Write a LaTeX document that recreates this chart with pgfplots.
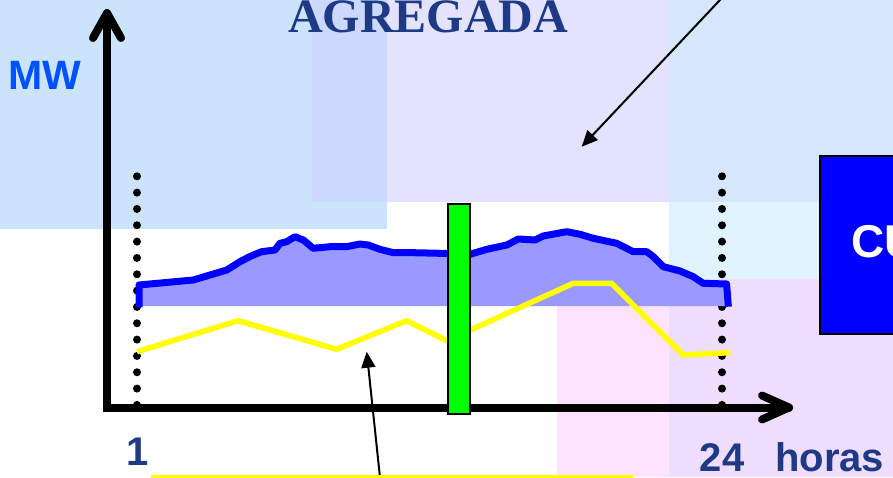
\documentclass[border=0pt]{standalone}
\usepackage{pgfplots}
\pgfplotsset{compat=1.18}
\usepackage{fontspec}
\setmainfont{Liberation Sans}
\newfontfamily\timesfont{Liberation Serif}
\usetikzlibrary{arrows.meta}
\definecolor{navy}{RGB}{31,58,132}
\definecolor{mwblue}{RGB}{0,82,255}
\definecolor{pureblue}{RGB}{0,0,255}
\definecolor{fillblue}{RGB}{153,153,255}
\definecolor{ylw}{RGB}{255,255,0}
\definecolor{grn}{RGB}{0,255,0}
\definecolor{bgA}{RGB}{204,228,251}
\definecolor{bgB}{RGB}{227,227,253}
\definecolor{bgAB}{RGB}{204,216,253}
\definecolor{bgC}{RGB}{214,231,253}
\definecolor{bgD}{RGB}{224,243,254}
\definecolor{bgE}{RGB}{253,227,253}
\definecolor{bgF}{RGB}{238,221,253}
\begin{document}
\begin{tikzpicture}
\begin{scope}[x=1pt,y=1pt]
\useasboundingbox (0,0) rectangle (893,477);
\clip (0,0) rectangle (893,477);
\fill[white] (0,0) rectangle (893,477);
% background panels of the slide
\fill[bgA] (0,248) rectangle (387,477);
\fill[bgB] (312,275) rectangle (669,477);
\fill[bgAB] (312,275) rectangle (387,477);
\fill[bgC] (669,275) rectangle (893,477);
\fill[bgD] (669,198) rectangle (893,275);
\fill[bgE] (557,0) rectangle (669,171);
\fill[bgF] (669,0) rectangle (893,198);
% dotted verticals at hours 1 and 24
\draw[line width=8pt, line cap=round, dash pattern=on 0pt off 16.33pt] (137,300.7) -- (137,71.5);
\draw[line width=8pt, line cap=round, dash pattern=on 0pt off 16.33pt] (722,300.7) -- (722,71.5);
% axes with arrows
\draw[line width=8pt, line join=miter, line cap=round] (107,464) -- (107,69.5) -- (789,69.5);
\draw[line width=8pt, line cap=round, line join=round] (93,439) -- (107,464) -- (121,439);
\draw[line width=8pt, line cap=round, line join=round] (762,81.5) -- (789,69.5) -- (762,57.5);
\end{scope}
\begin{axis}[at={(0,0)}, anchor=south west, scale only axis,
  width=893pt, height=477pt,
  xmin=-4.386, xmax=30.723, ymin=-700, ymax=4070,
  hide axis, clip=true]
% aggregated load curve (area)
\addplot[fill=fillblue, draw=none] coordinates {
 (1.08,1010) (1.08,1220) (3.21,1270) (4.53,1370) (5.05,1453) (5.38,1497)
 (5.64,1527) (5.90,1553) (6.43,1570) (6.62,1637) (6.89,1653) (7.21,1703)
 (7.54,1670) (7.93,1587) (8.59,1603) (9.24,1603) (9.77,1630) (10.09,1620)
 (10.55,1577) (11.08,1543) (11.86,1543) (12.91,1537) (14.09,1527) (14.75,1577)
 (15.54,1620) (15.99,1680) (16.65,1670) (16.97,1710) (17.89,1753) (18.42,1727)
 (18.94,1687) (19.86,1637) (20.51,1553) (21.04,1553) (21.30,1503) (21.69,1403)
 (22.35,1360) (22.87,1303) (23.26,1237) (24.18,1230) (24.25,1010)};
\addplot[pureblue, line width=7pt, line join=round, mark=none] coordinates {
 (1.08,997) (1.08,1220) (3.21,1270) (4.53,1370) (5.05,1453) (5.38,1497)
 (5.64,1527) (5.90,1553) (6.43,1570) (6.62,1637) (6.89,1653) (7.21,1703)
 (7.54,1670) (7.93,1587) (8.59,1603) (9.24,1603) (9.77,1630) (10.09,1620)
 (10.55,1577) (11.08,1543) (11.86,1543) (12.91,1537) (14.09,1527) (14.75,1577)
 (15.54,1620) (15.99,1680) (16.65,1670) (16.97,1710) (17.89,1753) (18.42,1727)
 (18.94,1687) (19.86,1637) (20.51,1553) (21.04,1553) (21.30,1503) (21.69,1403)
 (22.35,1360) (22.87,1303) (23.26,1237) (24.18,1230) (24.25,1003)};
% yellow series
\addplot[ylw, line width=5.5pt, line join=miter, mark=none] coordinates {
 (1.00,553) (4.98,863) (8.85,577) (11.60,863) (13.18,663)
 (18.15,1237) (19.66,1237) (22.48,520) (24.31,543)};
% green bar
\addplot[fill=grn, draw=black, line width=1.5pt, mark=none] coordinates {
 (13.23,-70) (14.09,-70) (14.09,2030) (13.23,2030)} -- cycle;
\end{axis}
\begin{scope}[x=1pt,y=1pt]
\clip (0,0) rectangle (893,477);
% annotation arrows
\draw[line width=2pt, -{Triangle[length=16pt,width=14pt]}] (729.4,487) -- (581.7,330.3);
\draw[line width=2pt, -{Triangle[length=16pt,width=14pt]}] (381,-10) -- (366.7,125.3);
\draw[ylw, line width=3pt] (151,0.5) -- (633,0.5);
% blue box at right
\filldraw[fill=pureblue, draw=black, line width=2pt] (820,143) rectangle (905,321);
\node[anchor=base west, inner sep=0, text=white, font=\bfseries\fontsize{46}{46}\selectfont] at (851,219) {CURVA};
% texts
\node[anchor=base, inner sep=0, text=navy, font=\timesfont\bfseries\fontsize{48}{48}\selectfont] at (428,444) {AGREGADA};
\node[anchor=base west, inner sep=0, text=mwblue, font=\bfseries\fontsize{41}{41}\selectfont] at (8,387) {MW};
\node[anchor=base, inner sep=0, text=navy, font=\bfseries\fontsize{40}{40}\selectfont] at (138,12) {1};
\node[anchor=base, inner sep=0, text=navy, font=\bfseries\fontsize{40}{40}\selectfont] at (722,6) {24};
\node[anchor=base west, inner sep=0, text=navy, font=\bfseries\fontsize{40}{40}\selectfont] at (775,6) {horas};
\end{scope}
\end{tikzpicture}
\end{document}
